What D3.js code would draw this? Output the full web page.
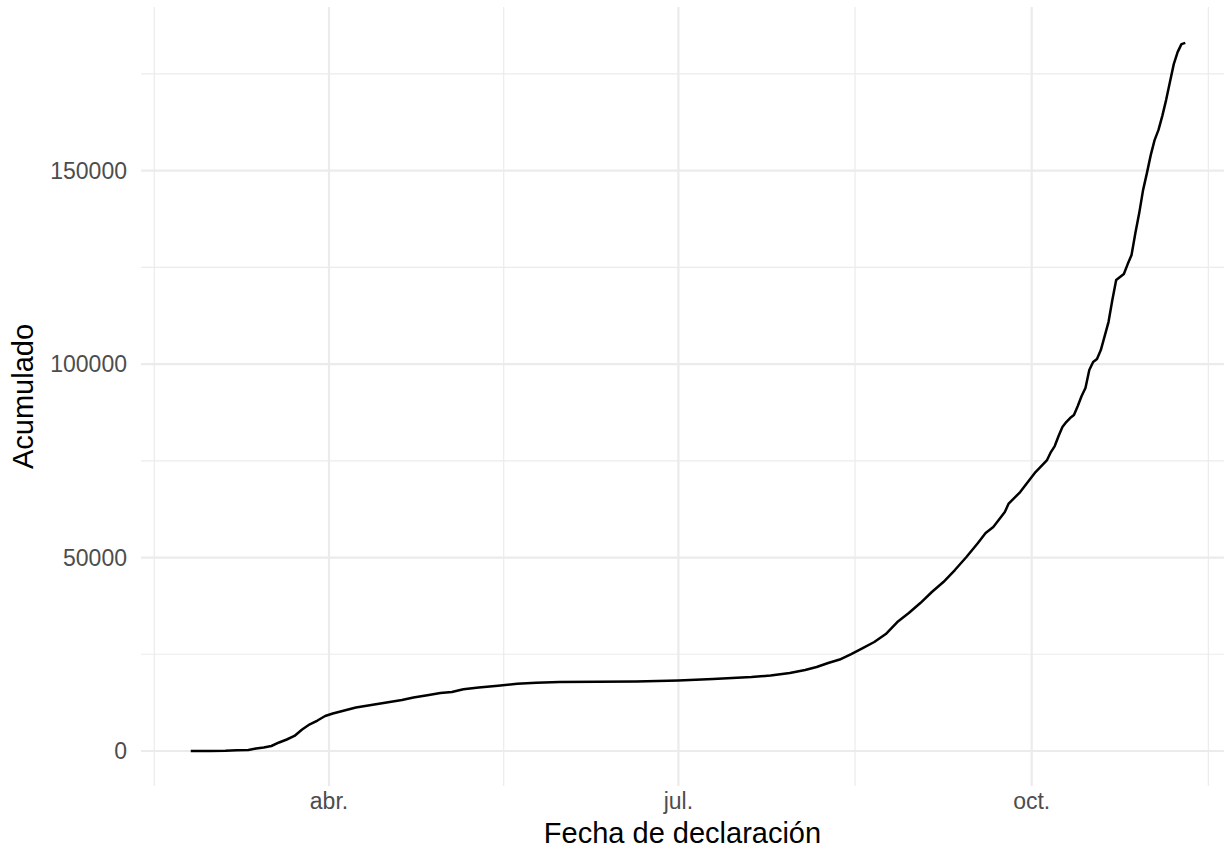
<!DOCTYPE html>
<html>
<head>
<meta charset="utf-8">
<script src="https://cdn.jsdelivr.net/npm/d3@7"></script>
<style>
  html, body { margin: 0; padding: 0; background: #ffffff; }
  svg { display: block; font-family: "Liberation Sans", Arial, sans-serif; }
</style>
</head>
<body>
<svg id="chart" width="1231" height="857"></svg>
<script>
// ---- data ----
const dates = [
  "2020-02-25","2020-03-01","2020-03-05","2020-03-08","2020-03-11","2020-03-13","2020-03-15","2020-03-17",
  "2020-03-19","2020-03-21","2020-03-23","2020-03-25","2020-03-27","2020-03-29","2020-03-31","2020-04-02",
  "2020-04-05","2020-04-08","2020-04-12","2020-04-16","2020-04-20","2020-04-23","2020-04-27","2020-04-30",
  "2020-05-03","2020-05-06","2020-05-10","2020-05-15","2020-05-20","2020-05-25","2020-05-31","2020-06-10",
  "2020-06-20","2020-07-01","2020-07-10","2020-07-20","2020-07-25","2020-07-30","2020-08-03","2020-08-06",
  "2020-08-09","2020-08-12","2020-08-15","2020-08-18","2020-08-21","2020-08-24","2020-08-27","2020-08-30",
  "2020-09-02","2020-09-05","2020-09-08","2020-09-11","2020-09-14","2020-09-17","2020-09-19","2020-09-21",
  "2020-09-24","2020-09-25","2020-09-28",
  "2020-10-01","2020-10-02","2020-10-03","2020-10-04","2020-10-05","2020-10-06","2020-10-07","2020-10-08",
  "2020-10-09","2020-10-10","2020-10-11","2020-10-12","2020-10-13","2020-10-14","2020-10-15","2020-10-16",
  "2020-10-17","2020-10-18","2020-10-19","2020-10-20","2020-10-21","2020-10-22","2020-10-23","2020-10-24",
  "2020-10-25","2020-10-26","2020-10-27","2020-10-28","2020-10-29","2020-10-30","2020-10-31","2020-11-01",
  "2020-11-02","2020-11-03","2020-11-04","2020-11-05","2020-11-06","2020-11-07","2020-11-08","2020-11-09",
  "2020-11-10"
];
const acumulado = [
  0, 0, 50, 180, 260, 650, 900, 1290,
  2200, 2970, 3880, 5560, 6900, 7880, 9040, 9690,
  10470, 11240, 11890, 12530, 13180, 13820, 14470, 14990,
  15250, 15940, 16410, 16850, 17360, 17650, 17830, 17900,
  17980, 18250, 18600, 19120, 19510, 20160, 20930, 21710,
  22740, 23640, 25060, 26610, 28170, 30230, 33330, 35660,
  38240, 41090, 43670, 46770, 50130, 53750, 56330, 57880,
  61760, 63950, 66930,
  70800, 72090, 73130, 74160, 75190, 77260, 78810, 81400,
  83720, 85010, 86050, 86820, 89150, 91730, 93800, 98450,
  100520, 101290, 103620, 107240, 110850, 116540, 121710, 122480,
  123260, 125840, 128170, 133850, 139020, 144960, 149350, 154000,
  157880, 160460, 164080, 168220, 172870, 177520, 180620, 182690,
  183020
];
const xTickDates  = ["2020-04-01", "2020-07-01", "2020-10-01"];
const xTickLabels = ["abr.", "jul.", "oct."];
const xMinorDates = ["2020-02-15T12:00:00Z", "2020-05-16T12:00:00Z", "2020-08-16T00:00:00Z", "2020-11-16T00:00:00Z"];
const yTicks      = [0, 50000, 100000, 150000];
const yMinor      = [25000, 75000, 125000, 175000];
const xTitle = "Fecha de declaración";
const yTitle = "Acumulado";

// ---- layout ----
const panel = { left: 141, right: 1224, top: 7, bottom: 786 };
const parse = s => new Date(s.length === 10 ? s + "T00:00:00Z" : s);

const x = d3.scaleUtc()
  .domain([parse("2020-04-01"), parse("2020-10-01")])
  .range([329, 1031.7]);
const y = d3.scaleLinear()
  .domain([0, 150000])
  .range([751, 170.6]);

const svg = d3.select("#chart");
const gridColor = "#EBEBEB";

// minor grid
svg.append("g").selectAll("line").data(yMinor).join("line")
  .attr("x1", panel.left).attr("x2", panel.right)
  .attr("y1", d => y(d)).attr("y2", d => y(d))
  .attr("stroke", gridColor).attr("stroke-width", 1.2);
svg.append("g").selectAll("line").data(xMinorDates.map(parse)).join("line")
  .attr("y1", panel.top).attr("y2", panel.bottom)
  .attr("x1", d => x(d)).attr("x2", d => x(d))
  .attr("stroke", gridColor).attr("stroke-width", 1.2);

// major grid
svg.append("g").selectAll("line").data(yTicks).join("line")
  .attr("x1", panel.left).attr("x2", panel.right)
  .attr("y1", d => y(d)).attr("y2", d => y(d))
  .attr("stroke", gridColor).attr("stroke-width", 2.2);
svg.append("g").selectAll("line").data(xTickDates.map(parse)).join("line")
  .attr("y1", panel.top).attr("y2", panel.bottom)
  .attr("x1", d => x(d)).attr("x2", d => x(d))
  .attr("stroke", gridColor).attr("stroke-width", 2.2);

// data line
const data = dates.map((d, i) => ({ date: parse(d), value: acumulado[i] }));
const line = d3.line().x(d => x(d.date)).y(d => y(d.value));
svg.append("path")
  .datum(data)
  .attr("d", line)
  .attr("fill", "none")
  .attr("stroke", "#000000")
  .attr("stroke-width", 2.5)
  .attr("stroke-linejoin", "round")
  .attr("stroke-linecap", "butt");

// y tick labels
svg.append("g").selectAll("text").data(yTicks).join("text")
  .attr("x", 127)
  .attr("y", d => y(d))
  .attr("dy", "0.36em")
  .attr("text-anchor", "end")
  .attr("font-size", 23)
  .attr("fill", "#4D4D4D")
  .text(d => d3.format("d")(d));

// x tick labels
svg.append("g").selectAll("text").data(xTickDates).join("text")
  .attr("x", d => x(parse(d)))
  .attr("y", 809)
  .attr("text-anchor", "middle")
  .attr("font-size", 23)
  .attr("fill", "#4D4D4D")
  .text((d, i) => xTickLabels[i]);

// axis titles
svg.append("text")
  .attr("x", (panel.left + panel.right) / 2)
  .attr("y", 843)
  .attr("text-anchor", "middle")
  .attr("font-size", 29)
  .attr("fill", "#000000")
  .text(xTitle);

svg.append("text")
  .attr("transform", `translate(33, ${(panel.top + panel.bottom) / 2}) rotate(-90)`)
  .attr("text-anchor", "middle")
  .attr("font-size", 29)
  .attr("fill", "#000000")
  .text(yTitle);
</script>
</body>
</html>
